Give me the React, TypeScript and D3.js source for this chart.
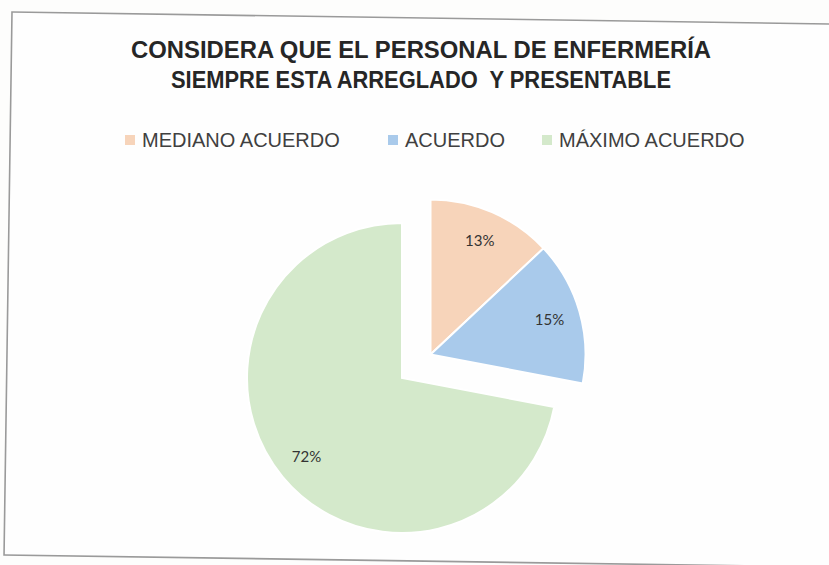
import React from "react";
import * as d3 from "d3";

const categories = ["MEDIANO ACUERDO", "ACUERDO", "MÁXIMO ACUERDO"];
const values = [13, 15, 72];
const colors = ["#F7D4BA", "#A9CAEB", "#D4E9CB"];
const exploded = [true, true, false];
const titleLines = [
  "CONSIDERA QUE EL PERSONAL DE ENFERMERÍA",
  "SIEMPRE ESTA ARREGLADO  Y PRESENTABLE",
];

const width = 829;
const height = 565;
const cx = 402;
const cy = 378;
const radius = 155;
const explodeDist = 37;

export default function App() {
  const pie = d3
    .pie<number>()
    .sort(null)
    .value((d) => d);
  const arcs = pie(values);

  const arc = d3.arc<d3.PieArcDatum<number>>().innerRadius(0).outerRadius(radius);
  const labelArc = d3
    .arc<d3.PieArcDatum<number>>()
    .innerRadius(radius * 0.8)
    .outerRadius(radius * 0.8);

  // exploded slices move together along their shared bisector
  const exArcs = arcs.filter((d, i) => exploded[i]);
  const midAngle =
    (d3.min(exArcs, (d) => d.startAngle)! + d3.max(exArcs, (d) => d.endAngle)!) / 2;
  const ex = Math.sin(midAngle) * explodeDist;
  const ey = -Math.cos(midAngle) * explodeDist;

  const total = d3.sum(values);

  const legendX = [125, 388, 542];
  const titleWidths = [580, 500];

  return (
    <svg
      width={width}
      height={height}
      style={{ position: "absolute", left: 0, top: 0, background: "#fdfdfc" }}
    >
      <rect
        x={12}
        y={12}
        width={840}
        height={543}
        fill="#fefefe"
        stroke="#9a9a9a"
        strokeWidth={1.6}
        transform="rotate(0.84 12 12)"
      />

      {titleLines.map((t, i) => (
        <text
          key={i}
          x={421}
          y={58 + i * 30}
          textAnchor="middle"
          textLength={titleWidths[i]}
          lengthAdjust="spacingAndGlyphs"
          style={{ whiteSpace: "pre" }}
          fontFamily="Liberation Sans, Arial, sans-serif"
          fontWeight="bold"
          fontSize={23.5}
          fill="#262626"
        >
          {t}
        </text>
      ))}

      {categories.map((c, i) => (
        <g key={c} transform={`translate(${legendX[i]},147)`}>
          <rect x={0} y={-12} width={10} height={10} fill={colors[i]} />
          <text
            x={17}
            y={0}
            fontFamily="Liberation Sans, Arial, sans-serif"
            fontSize={20}
            fill="#404040"
          >
            {c}
          </text>
        </g>
      ))}

      <g transform={`translate(${cx},${cy})`}>
        {arcs.map((d, i) => (
          <g key={i} transform={exploded[i] ? `translate(${ex},${ey})` : undefined}>
            <path d={arc(d)!} fill={colors[i]} stroke="#ffffff" strokeWidth={2} />
            <text
              transform={`translate(${labelArc.centroid(d)})`}
              textAnchor="middle"
              dy="0.35em"
              fontFamily="Lato, sans-serif"
              fontSize={15}
              fill="#333333"
            >
              {`${Math.round((d.data / total) * 100)}%`}
            </text>
          </g>
        ))}
      </g>
    </svg>
  );
}
